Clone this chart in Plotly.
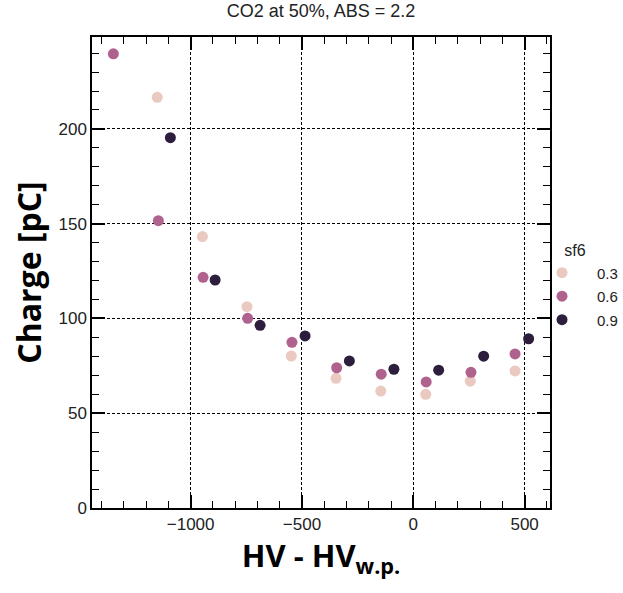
import plotly.graph_objects as go

# Data
sf6_levels = ["0.3", "0.6", "0.9"]
colors = {"0.3": "#eac9c1", "0.6": "#b0628e", "0.9": "#2d1e3e"}

hv_03 = [-1150, -947, -747, -548, -347, -146, 56, 256, 457]
q_03 = [216.7, 143.2, 106.2, 80.2, 68.4, 61.7, 60.0, 66.9, 72.3]

hv_06 = [-1347, -1145, -944, -744, -545, -344, -144, 58, 259, 457]
q_06 = [239.6, 151.6, 121.7, 100.1, 87.4, 74.0, 70.6, 66.5, 71.6, 81.3]

hv_09 = [-1091, -890, -688, -486, -287, -87, 114, 316, 518]
q_09 = [195.4, 120.3, 96.4, 90.8, 77.6, 73.2, 72.7, 80.1, 89.3]

series = {"0.3": (hv_03, q_03), "0.6": (hv_06, q_06), "0.9": (hv_09, q_09)}

x_range = [-1443, 614]
y_range = [0, 248.5]
x_ticks = [-1000, -500, 0, 500]
x_ticktext = ["\u22121000", "\u2212500", "0", "500"]
y_ticks = [0, 50, 100, 150, 200]

fig = go.Figure()
for lvl in sf6_levels:
    xs, ys = series[lvl]
    fig.add_trace(go.Scatter(
        x=xs, y=ys, mode="markers", name=lvl, legendgroup=lvl,
        marker=dict(color=colors[lvl], size=11, line=dict(width=0)),
    ))

# invisible trace to activate the mirrored tick axes (top/right)
fig.add_trace(go.Scatter(x=[hv_03[0]], y=[q_03[0]], xaxis="x2", yaxis="y2",
                         mode="markers", marker=dict(opacity=0), showlegend=False,
                         hoverinfo="skip"))

tick_font = dict(family="Liberation Sans, Arial", size=17, color="#222")
major = dict(ticks="inside", ticklen=13, tickwidth=1.5, tickcolor="black")
minor_x = dict(ticks="inside", ticklen=7, tickwidth=1.2, tickcolor="black", dtick=100, tick0=0, showgrid=False)
minor_y = dict(ticks="inside", ticklen=7, tickwidth=1.2, tickcolor="black", dtick=10, tick0=0, showgrid=False)

fig.update_layout(
    xaxis=dict(
        **major, range=x_range, tickvals=x_ticks, ticktext=x_ticktext, tickfont=tick_font,
        showline=True, linecolor="black", linewidth=1.5, mirror=True,
        showgrid=True, gridcolor="black", gridwidth=1, griddash="3px,2px", zeroline=False,
        minor=minor_x,
        title=dict(text="<b>HV - HV<sub>w.p.</sub></b>", font=dict(family="Open Sans", size=31, color="black"), standoff=12),
    ),
    yaxis=dict(
        **major, range=y_range, tickvals=y_ticks, tickfont=tick_font,
        showline=True, linecolor="black", linewidth=1.5, mirror=True,
        showgrid=True, gridcolor="black", gridwidth=1, griddash="3px,2px", zeroline=False,
        minor=minor_y,
        title=dict(text="<b>Charge [pC]</b>", font=dict(family="Open Sans", size=32, color="black"), standoff=7),
    ),
    xaxis2=dict(**major, overlaying="x", side="top", range=x_range, tickvals=x_ticks,
                showticklabels=False, showgrid=False, zeroline=False, showline=False, minor=minor_x),
    yaxis2=dict(**major, overlaying="y", side="right", range=y_range, tickvals=y_ticks,
                showticklabels=False, showgrid=False, zeroline=False, showline=False, minor=minor_y),
)

fig.update_layout(
    width=623, height=593,
    margin=dict(l=92, r=73, t=37, b=85, autoexpand=False),
    plot_bgcolor="white", paper_bgcolor="white",
    title=dict(text="CO2 at 50%, ABS = 2.2", x=0.5, xref="paper", xanchor="center",
               y=1, yref="container", yanchor="top", pad=dict(t=4),
               font=dict(family="Liberation Sans, Arial", size=18, color="#222")),
    legend=dict(title=dict(text="sf6", side="top center",
                           font=dict(family="Liberation Sans, Arial", size=16, color="#222")),
                font=dict(family="Liberation Sans, Arial", size=15, color="#222"),
                x=0.9498, xanchor="left", y=0.5783, yanchor="top",
                bgcolor="rgba(0,0,0,0)", itemwidth=60, tracegroupgap=1),
    showlegend=True,
)

fig.write_html("out.html")
